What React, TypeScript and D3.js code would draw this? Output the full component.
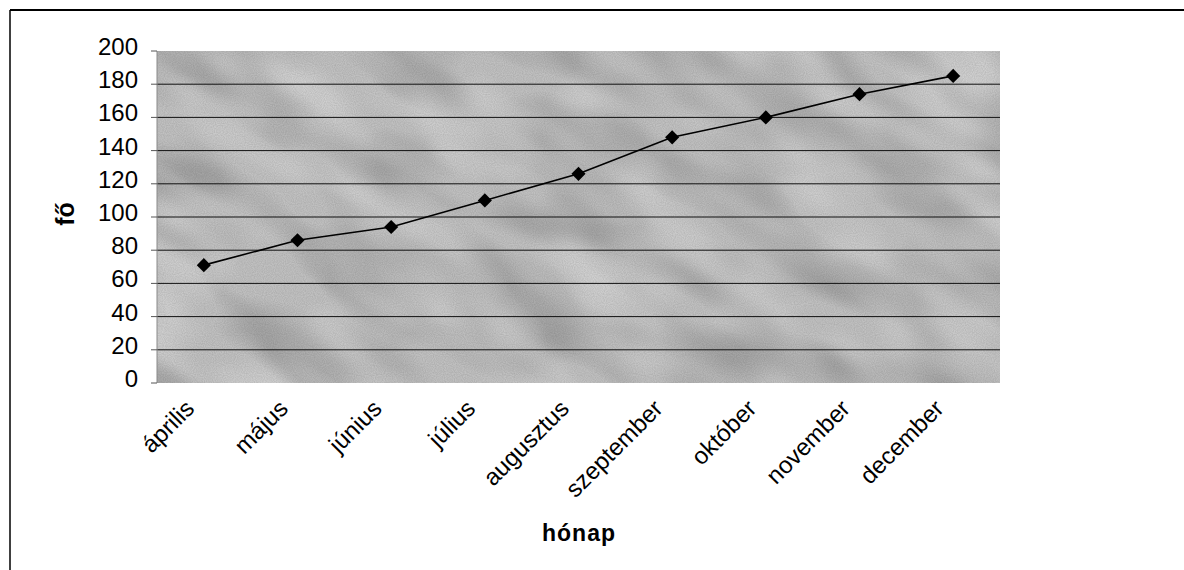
import React from "react";
import * as d3 from "d3";

const categories = ["április", "május", "június", "július", "augusztus", "szeptember", "október", "november", "december"];
const values = [71, 86, 94, 110, 126, 148, 160, 174, 185];
const yTicks = [0, 20, 40, 60, 80, 100, 120, 140, 160, 180, 200];
const xTitle = "hónap";
const yTitle = "fő";

const W = 1184;
const H = 570;
const plot = { left: 157, right: 1000, top: 51, bottom: 383 };

export default function App() {
  const x = d3.scaleBand<string>().domain(categories).range([plot.left, plot.right]).padding(0);
  const y = d3.scaleLinear().domain([0, 200]).range([plot.bottom, plot.top]);
  const cx = (c: string) => (x(c) as number) + x.bandwidth() / 2;
  const line = d3
    .line<number>()
    .x((_, i) => cx(categories[i]))
    .y((v) => y(v));
  const diamond = d3.symbol().type(d3.symbolSquare).size(100)();
  const font = "'Liberation Sans', Arial, sans-serif";
  const pw = plot.right - plot.left;
  const ph = plot.bottom - plot.top;

  return (
    <svg
      width={W}
      height={H}
      style={{ position: "absolute", left: 0, top: 0, background: "#fff" }}
      fontFamily={font}
    >
      <defs>
        <filter id="texDark" x="0" y="0" width="100%" height="100%">
          <feTurbulence type="fractalNoise" baseFrequency="0.008 0.02" numOctaves={2} seed={11} />
          <feColorMatrix type="matrix" values="0 0 0 0 0  0 0 0 0 0  0 0 0 0 0  2.2 0 0 0 -0.85" />
        </filter>
        <filter id="texLight" x="0" y="0" width="100%" height="100%">
          <feTurbulence type="fractalNoise" baseFrequency="0.01 0.018" numOctaves={2} seed={4} />
          <feColorMatrix type="matrix" values="0 0 0 0 1  0 0 0 0 1  0 0 0 0 1  2.2 0 0 0 -0.9" />
        </filter>
        <filter id="grain" x="0" y="0" width="100%" height="100%">
          <feTurbulence type="fractalNoise" baseFrequency="0.9" numOctaves={1} seed={3} />
          <feColorMatrix type="matrix" values="0 0 0 0 0  0 0 0 0 0  0 0 0 0 0  0 0 0 1.2 -0.35" />
        </filter>
        <clipPath id="pc">
          <rect x={plot.left} y={plot.top} width={pw} height={ph} />
        </clipPath>
      </defs>

      {/* frame */}
      <line x1={10} y1={10} x2={W} y2={10} stroke="#000" strokeWidth={2} />
      <line x1={10} y1={10} x2={10} y2={H} stroke="#000" strokeWidth={1.5} />

      {/* plot background */}
      <g clipPath="url(#pc)">
        <rect x={plot.left} y={plot.top} width={pw} height={ph} fill="#c0c0c0" />
        <g transform={`rotate(30 ${(plot.left + plot.right) / 2} ${(plot.top + plot.bottom) / 2})`}>
          <rect x={plot.left - 200} y={plot.top - 300} width={pw + 400} height={ph + 600} filter="url(#texDark)" opacity={0.18} />
          <rect x={plot.left - 200} y={plot.top - 300} width={pw + 400} height={ph + 600} filter="url(#texLight)" opacity={0.3} />
        </g>
        <rect x={plot.left} y={plot.top} width={pw} height={ph} filter="url(#grain)" opacity={0.15} />
      </g>

      {/* gridlines */}
      {yTicks
        .filter((t) => t > 0 && t < 200)
        .map((t) => (
          <line key={t} x1={plot.left} x2={plot.right} y1={y(t)} y2={y(t)} stroke="#111" strokeWidth={1} />
        ))}

      {/* y axis */}
      <line x1={plot.left} x2={plot.left} y1={plot.top} y2={plot.bottom} stroke="#8a8a8a" strokeWidth={1} />
      {yTicks.map((t) => (
        <g key={t}>
          <line x1={plot.left - 6} x2={plot.left} y1={y(t)} y2={y(t)} stroke="#555" strokeWidth={1} />
          <text x={138} y={y(t) + 4} fontSize={24} textAnchor="end" fill="#000">
            {t}
          </text>
        </g>
      ))}

      {/* x labels */}
      {categories.map((c) => {
        const ax = cx(c) - 8;
        const ay = 410;
        return (
          <text
            key={c}
            x={ax}
            y={ay}
            fontSize={24}
            textAnchor="end"
            fill="#000"
            transform={`rotate(-45 ${ax} ${ay})`}
          >
            {c}
          </text>
        );
      })}

      {/* series */}
      <path d={line(values) || ""} fill="none" stroke="#000" strokeWidth={1.6} />
      {values.map((v, i) => (
        <path
          key={categories[i]}
          d={diamond || ""}
          transform={`translate(${cx(categories[i])},${y(v)}) rotate(45)`}
          fill="#000"
        />
      ))}

      {/* axis titles */}
      <text x={579} y={541} fontSize={23} fontWeight="bold" textAnchor="middle" letterSpacing={1}>
        {xTitle}
      </text>
      <text
        x={0}
        y={0}
        fontSize={25}
        fontWeight="bold"
        textAnchor="middle"
        transform={`translate(74 ${214}) rotate(-90)`}
      >
        {yTitle}
      </text>
    </svg>
  );
}
